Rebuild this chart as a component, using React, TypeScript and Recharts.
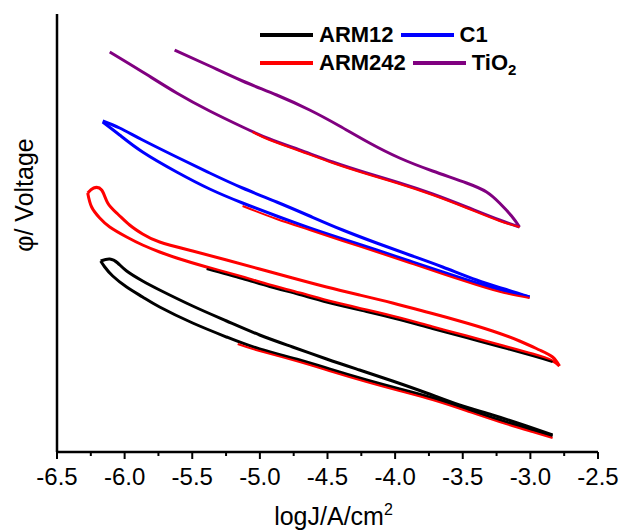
import { LineChart, Line, XAxis, YAxis } from 'recharts'

// logJ (x) and potential (y, arbitrary offset); each sweep split into its two branches
const tio2UpX = [-5.63, -5.371, -5.128, -4.876, -4.632, -4.411, -4.189, -3.967, -3.723, -3.472, -3.324, -3.228, -3.139, -3.08]
const tio2UpY = [4.02, 3.86, 3.71, 3.57, 3.42, 3.26, 3.09, 2.94, 2.81, 2.69, 2.60, 2.49, 2.36, 2.25]
const tio2LowX = [-3.08, -3.228, -3.472, -3.723, -3.967, -4.211, -4.462, -4.706, -4.928, -5.128, -5.371, -5.615, -5.867, -6.11]
const tio2LowY = [2.25, 2.32, 2.45, 2.58, 2.69, 2.79, 2.90, 3.02, 3.13, 3.25, 3.41, 3.59, 3.80, 4.00]

const c1UpX = [-6.162, -6.037, -5.867, -5.615, -5.371, -5.128, -4.876, -4.632, -4.388, -4.137, -3.893, -3.649, -3.398, -3.191, -3.006]
const c1UpY = [3.31, 3.24, 3.12, 2.95, 2.79, 2.64, 2.50, 2.36, 2.22, 2.09, 1.97, 1.85, 1.72, 1.63, 1.55]
const c1LowX = [-3.006, -3.191, -3.398, -3.649, -3.893, -4.137, -4.388, -4.632, -4.876, -5.128, -5.371, -5.615, -5.867, -6.037, -6.162]
const c1LowY = [1.55, 1.61, 1.69, 1.80, 1.91, 2.02, 2.13, 2.24, 2.36, 2.49, 2.63, 2.80, 3.00, 3.17, 3.30]

const arm242UpX = [-6.273, -6.229, -6.170, -6.125, -6.051, -5.963, -5.867, -5.741, -5.497, -5.246, -5.002, -4.758, -4.507, -4.263, -4.019, -3.768, -3.524, -3.280, -3.080, -2.932, -2.836, -2.785]
const arm242UpY = [2.59, 2.64, 2.62, 2.49, 2.38, 2.27, 2.18, 2.10, 2.01, 1.92, 1.83, 1.74, 1.65, 1.57, 1.49, 1.40, 1.31, 1.21, 1.11, 1.02, 0.95, 0.86]
const arm242LowX = [-2.785, -2.836, -2.984, -3.228, -3.472, -3.723, -3.967, -4.211, -4.462, -4.706, -4.928, -5.128, -5.394, -5.615, -5.741, -5.867, -5.985, -6.11, -6.184, -6.244, -6.273]
const arm242LowY = [0.86, 0.91, 0.98, 1.07, 1.16, 1.25, 1.34, 1.42, 1.50, 1.59, 1.67, 1.75, 1.85, 1.94, 2.00, 2.07, 2.15, 2.25, 2.34, 2.45, 2.59]

const arm12UpX = [-6.177, -6.11, -6.051, -5.985, -5.867, -5.741, -5.497, -5.246, -5.002, -4.758, -4.507, -4.263, -4.019, -3.768, -3.524, -3.280, -3.029, -2.836]
const arm12UpY = [1.91, 1.93, 1.89, 1.81, 1.71, 1.62, 1.46, 1.31, 1.17, 1.05, 0.93, 0.82, 0.71, 0.59, 0.47, 0.37, 0.26, 0.17]
const arm12LowX = [-2.836, -2.984, -3.228, -3.472, -3.723, -3.967, -4.211, -4.462, -4.706, -5.002, -5.246, -5.497, -5.741, -5.867, -5.985, -6.088, -6.147, -6.177]
const arm12LowY = [0.16, 0.22, 0.32, 0.43, 0.54, 0.63, 0.72, 0.82, 0.92, 1.03, 1.15, 1.29, 1.45, 1.55, 1.65, 1.76, 1.85, 1.91]

// tafel fit segments laid over each curve
const tio2FitX = [-5.054, -4.928, -4.706, -4.462, -4.211, -3.967, -3.723, -3.472, -3.228, -3.08]
const tio2FitY = [3.20, 3.12, 3.01, 2.89, 2.78, 2.68, 2.57, 2.44, 2.31, 2.25]
const c1FitX = [-5.128, -4.876, -4.632, -4.388, -4.137, -3.893, -3.649, -3.398, -3.191, -3.006]
const c1FitY = [2.46, 2.33, 2.22, 2.11, 2.00, 1.89, 1.78, 1.67, 1.59, 1.54]
const arm242FitX = [-5.394, -5.128, -4.928, -4.706, -4.462, -4.211, -3.967, -3.723, -3.472, -3.228, -2.984, -2.836]
const arm242FitY = [1.83, 1.73, 1.65, 1.57, 1.48, 1.40, 1.32, 1.23, 1.14, 1.05, 0.96, 0.90]
const arm12FitX = [-5.164, -5.002, -4.706, -4.462, -4.211, -3.967, -3.723, -3.472, -3.228, -2.984, -2.836]
const arm12FitY = [1.08, 1.01, 0.90, 0.80, 0.70, 0.61, 0.52, 0.41, 0.30, 0.20, 0.14]

const xTicks = [-6.5, -6.25, -6.0, -5.75, -5.5, -5.25, -5.0, -4.75, -4.5, -4.25, -4.0, -3.75, -3.5, -3.25, -3.0, -2.75, -2.5]

const FONT = '"Liberation Sans", Arial, sans-serif'

const pts = (xs: number[], ys: number[]) => xs.map((x, i) => ({ x, y: ys[i] }))

const branches = [
  { key: 'ARM12-up', color: '#000000', data: pts(arm12UpX, arm12UpY) },
  { key: 'ARM12-low', color: '#000000', data: pts(arm12LowX, arm12LowY) },
  { key: 'ARM242-up', color: '#ff0000', data: pts(arm242UpX, arm242UpY) },
  { key: 'ARM242-low', color: '#ff0000', data: pts(arm242LowX, arm242LowY) },
  { key: 'C1-up', color: '#0000ff', data: pts(c1UpX, c1UpY) },
  { key: 'C1-low', color: '#0000ff', data: pts(c1LowX, c1LowY) },
  { key: 'TiO2-up', color: '#800080', data: pts(tio2UpX, tio2UpY) },
  { key: 'TiO2-low', color: '#800080', data: pts(tio2LowX, tio2LowY) },
]

const fits = [
  { key: 'fitTiO2', color: '#ff0000', data: pts(tio2FitX, tio2FitY) },
  { key: 'fitC1', color: '#ff0000', data: pts(c1FitX, c1FitY) },
  { key: 'fitARM242', color: '#000000', data: pts(arm242FitX, arm242FitY) },
  { key: 'fitARM12', color: '#ff0000', data: pts(arm12FitX, arm12FitY) },
]

const XTick = (props: any) => {
  const { x, y, payload } = props
  const v = payload.value as number
  const major = Math.abs(v * 2 - Math.round(v * 2)) < 1e-6
  return (
    <g>
      <line x1={x} x2={x} y1={y} y2={y + (major ? 7 : 4)} stroke="#000" strokeWidth={2} />
      {major && (
        <text x={x} y={y + 33} textAnchor="middle" fontSize={24} fontFamily={FONT} fill="#000">
          {v.toFixed(1)}
        </text>
      )}
    </g>
  )
}

const XTitle = (props: any) => {
  const vb = props.viewBox ?? { x: 57, y: 452, width: 541, height: 60 }
  return (
    <text x={vb.x + vb.width / 2 + 6} y={vb.y + 73} textAnchor="middle" fontSize={25} fontFamily={FONT} fill="#000">
      logJ/A/cm<tspan fontSize={16} dy={-10}>2</tspan>
    </text>
  )
}

const YTitle = (props: any) => {
  const vb = props.viewBox ?? { x: 0, y: 14, width: 57, height: 438 }
  const cx = vb.x + 24
  const cy = vb.y + 181
  return (
    <text x={cx} y={cy} transform={`rotate(-90 ${cx} ${cy})`} textAnchor="middle" dominantBaseline="central"
      fontSize={25} fontFamily={FONT} fill="#000">
      φ/ Voltage
    </text>
  )
}

const legendRows = [
  [{ name: 'ARM12', color: '#000000' }, { name: 'C1', color: '#0000ff' }],
  [{ name: 'ARM242', color: '#ff0000' }, { name: 'TiO2', color: '#800080' }],
]

const LegendBox = () => (
  <div style={{ position: 'absolute', left: 260, top: 21, fontFamily: FONT, fontWeight: 'bold', fontSize: 22, color: '#000' }}>
    {legendRows.map((row, r) => (
      <div key={r} style={{ display: 'flex', alignItems: 'center', height: 28 }}>
        {row.map((it) => (
          <div key={it.name} style={{ display: 'flex', alignItems: 'center', marginRight: 7 }}>
            <span style={{ display: 'inline-block', width: 53, height: 4, background: it.color, marginRight: 6 }} />
            <span>{it.name === 'TiO2' ? <>TiO<sub style={{ fontSize: 15, lineHeight: 0 }}>2</sub></> : it.name}</span>
          </div>
        ))}
      </div>
    ))}
  </div>
)

export default function App() {
  return (
    <div style={{ position: 'absolute', left: 0, top: 0, width: 624, height: 531, background: '#fff' }}>
      <LineChart width={624} height={531} margin={{ top: 14, right: 26, bottom: 19, left: 0 }}>
        <XAxis type="number" dataKey="x" domain={[-6.5, -2.5]} ticks={xTicks} interval={0}
          tick={<XTick />} tickLine={false} tickSize={0} tickMargin={0} height={60}
          axisLine={{ stroke: '#000', strokeWidth: 2.5 }} label={{ content: XTitle }} allowDataOverflow />
        <YAxis type="number" dataKey="y" domain={[0, 4.38]} tick={false} tickLine={false} width={57}
          axisLine={{ stroke: '#000', strokeWidth: 2.5 }} label={{ content: YTitle }} allowDataOverflow />
        {branches.map((b) => (
          <Line key={b.key} data={b.data} dataKey="y" stroke={b.color} strokeWidth={3} strokeLinejoin="round"
            dot={false} activeDot={false} isAnimationActive={false} type="natural" />
        ))}
        {fits.map((f) => (
          <Line key={f.key} data={f.data} dataKey="y" stroke={f.color} strokeWidth={2}
            dot={false} activeDot={false} isAnimationActive={false} type="natural" />
        ))}
      </LineChart>
      <LegendBox />
    </div>
  )
}
